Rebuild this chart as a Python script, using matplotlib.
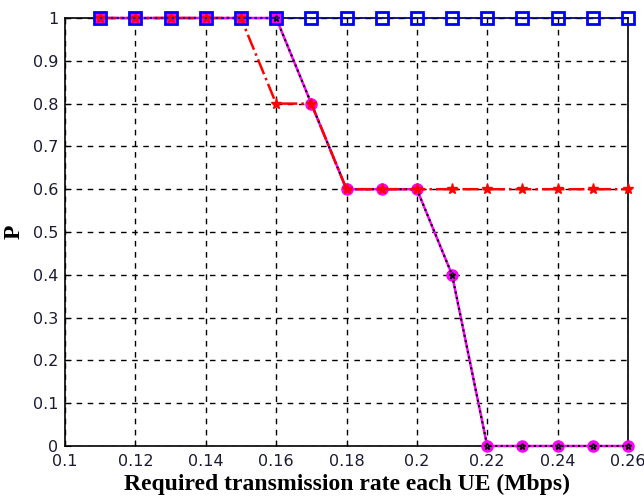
import matplotlib
matplotlib.use("Agg")
import matplotlib.pyplot as plt
import numpy as np

# data
rate = [0.11, 0.12, 0.13, 0.14, 0.15, 0.16, 0.17, 0.18, 0.19, 0.20,
        0.21, 0.22, 0.23, 0.24, 0.25, 0.26]
p_blue = [1, 1, 1, 1, 1, 1, 1, 1, 1, 1, 1, 1, 1, 1, 1, 1]
p_red = [1, 1, 1, 1, 1, 0.8, 0.8, 0.6, 0.6, 0.6, 0.6, 0.6, 0.6, 0.6, 0.6, 0.6]
p_magenta = [1, 1, 1, 1, 1, 1, 0.8, 0.6, 0.6, 0.6, 0.4, 0, 0, 0, 0, 0]
p_black = [1, 1, 1, 1, 1, 1, 0.8, 0.6, 0.6, 0.6, 0.4, 0, 0, 0, 0, 0]

xticks = [0.1, 0.12, 0.14, 0.16, 0.18, 0.2, 0.22, 0.24, 0.26]
xticklabels = ['0.1', '0.12', '0.14', '0.16', '0.18', '0.2', '0.22', '0.24', '0.26']
yticks = [0, 0.1, 0.2, 0.3, 0.4, 0.5, 0.6, 0.7, 0.8, 0.9, 1]
yticklabels = ['0', '0.1', '0.2', '0.3', '0.4', '0.5', '0.6', '0.7', '0.8', '0.9', '1']

fig = plt.figure(figsize=(6.44, 4.97), dpi=100)
ax = fig.add_axes([65/644, 51/497, 563/644, 428/497])

ax.plot(rate, p_magenta, '-', color='magenta', lw=1.8, marker='o', ms=8,
        mfc='magenta', mec='magenta', zorder=3, clip_on=False)
ax.plot(rate, p_black, ':', color='black', lw=1.5, marker='*', ms=5,
        mfc='none', mec='black', zorder=4, clip_on=False)
ax.plot(rate, p_red, '-.', color='red', lw=1.8, marker='*', ms=8,
        mfc='red', mec='red', zorder=5, clip_on=False)
ax.plot(rate, p_blue, ':', color='blue', lw=1.5, marker='s', ms=9,
        mfc='none', mec='blue', mew=2, zorder=6, clip_on=False)

ax.set_xlim(0.1, 0.26)
ax.set_ylim(0, 1)
ax.set_xticks(xticks)
ax.set_xticklabels(xticklabels)
ax.set_yticks(yticks)
ax.set_yticklabels(yticklabels)
ax.tick_params(direction='in', labelsize=11.5, length=4, colors='black',
               labelcolor='#1a1a33')
ax.tick_params(axis='x', pad=6)
ax.tick_params(axis='y', pad=5)
ax.grid(True, linestyle=(0, (4, 4)), color='black', lw=1)
for s in ax.spines.values():
    s.set_linewidth(1.2)

ax.set_xlabel('Required transmission rate each UE (Mbps)', family='Liberation Serif',
              fontweight='bold', fontsize=17, labelpad=3)
ax.set_ylabel('P', family='Liberation Serif', fontweight='bold', fontsize=17, labelpad=6)

fig.savefig('out.png', dpi=100)
